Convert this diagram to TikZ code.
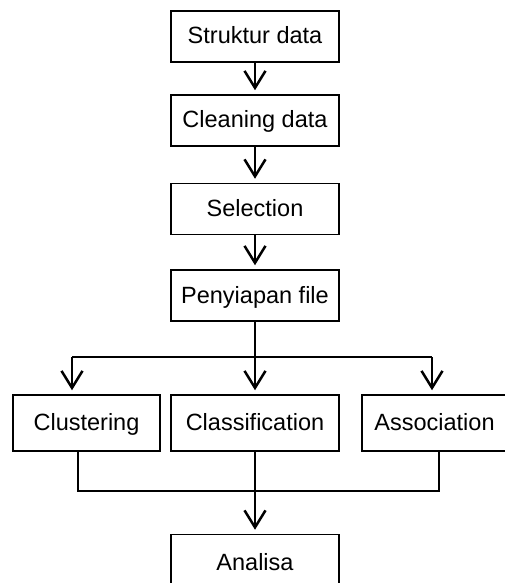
\documentclass[tikz,border=0pt]{standalone}
\usepackage{fontspec}
\setmainfont{Liberation Sans}
\usetikzlibrary{positioning}
\usetikzlibrary{arrows.meta}
\tikzset{
  procbox/.style={draw, line width=1.5pt, rectangle, inner sep=0pt,
  minimum height=51pt, text height=17pt, text depth=2pt,
  font=\fontsize{23.5}{28}\selectfont},
  flowline/.style={draw, line width=2.5pt},
  flowarrow/.style={draw, line width=2.5pt, shorten >=4pt,
  -{Straight Barb[length=17pt,width=21pt,line width=2.5pt]}},
}

\begin{document}
\begin{tikzpicture}[
  x=1pt,
  y=-1pt,
]

  \clip (0,0) rectangle (505,583);
  \useasboundingbox (0,0) rectangle (505,583);

  \coordinate (splitC) at ( 255, 357 );
  \coordinate (splitL) at (  72, 357 );
  \coordinate (splitR) at ( 432, 357 );
  \coordinate (joinL)  at (  78, 491 );
  \coordinate (joinR)  at ( 439, 491 );

  % Main column
  \node[procbox, minimum width=168pt] (struktur) at (255, 36.5) {Struktur data};
  \node[procbox, minimum width=168pt] (cleaning) at (255, 120.5) {Cleaning data};
  \node[procbox, minimum width=168pt] (selection) at (255, 209) {Selection};
  \node[procbox, minimum width=168pt] (penyiapan) at (255, 295.5) {Penyiapan file};

  % Methods
  \node[procbox, minimum width=147pt, minimum height=56pt] (clustering) at (86.5, 423) {Clustering};
  \node[procbox, minimum width=168pt, minimum height=56pt] (classification) at (255, 423) {Classification};
  \node[procbox, minimum width=145pt, minimum height=56pt] (association) at (434.5, 423) {Association};

  % Result
  \node[procbox, minimum width=168pt, minimum height=56pt] (analisa) at (255, 562.5) {Analisa};

  % Arrows main column
  \draw[flowarrow] (struktur) -- (cleaning);
  \draw[flowarrow] (cleaning) -- (selection);
  \draw[flowarrow] (selection) -- (penyiapan);

  % Split to methods
  \draw[flowline] (penyiapan) -- (splitC);
  \draw[flowline] (splitL) -- (splitR);
  \draw[flowarrow] (splitL) -- (splitL |- clustering.north);
  \draw[flowarrow] (splitC) -- (classification);
  \draw[flowarrow] (splitR) -- (splitR |- association.north);

  % Join to result
  \draw[flowline] (joinL |- clustering.south) -- (joinL) -- (joinR) -- (joinR |- association.south);
  \draw[flowarrow] (classification) -- (analisa);

\end{tikzpicture}
\end{document}
